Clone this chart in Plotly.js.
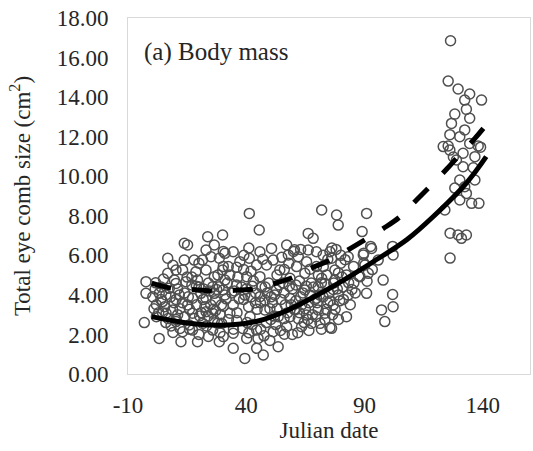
<!DOCTYPE html>
<html>
<head>
<meta charset="utf-8">
<script src="https://cdn.plot.ly/plotly-3.0.1.min.js"></script>
<style>html,body{margin:0;padding:0;background:#fff;}</style>
</head>
<body>
<div id="chart" style="width:533px;height:451px;"></div>
<script>
// Observed points: Julian date
const obsX = [
126.4,125.4,129.6,134.5,139.5,132.4,128.2,133.1,126.8,134.5,130.3,132.4,126.1,125.4,126.1,123.3,134.5,138.1,131.7,128.9,136.7,131.7,136.0,136.7,130.3,132.4,128.2,133.1,130.3,135.3,138.4,124.0,131.0,133.1,129.6,126.2,126.2,127.6,139.1,
90.9,89.0,92.6,102.1,101.9,95.8,97.9,101.9,97.2,102.1,98.6,90.9,89.7,89.7,93.3,91.6,88.1,90.2,89.5,93.0,83.1,82.4,83.1,82.4,85.4,84.7,87.6,86.1,81.8,81.1,83.3,91.1,
41.3,45.5,30.0,66.2,68.3,71.9,78.2,78.9,
6.8,13.8,15.2,23.7,26.5,23.0,13.8,18.0,21.5,25.1,28.6,6.8,10.3,13.1,18.7,23.0,26.5,30.0,-2.4,9.6,14.5,19.4,25.8,
-2.4,3.2,7.5,10.3,11.7,15.2,17.3,20.8,23.0,26.5,28.6,23.0,6.1,10.3,-3.1,3.2,12.4,19.4,13.1,17.3,25.8,28.6,4.6,8.9,17.3,25.8,21.6,15.9,27.9,
34.5,41.3,45.8,50.7,57.1,57.8,62.0,66.2,31.0,32.4,37.3,44.4,48.6,51.4,54.2,61.3,65.5,69.7,40.2,45.8,58.5,64.8,31.0,35.9,
30.3,34.5,39.4,45.8,47.9,52.8,58.5,64.8,69.7,33.1,41.6,47.9,53.5,60.6,65.5,34.5,40.2,44.4,51.4,57.1,63.4,67.6,34.5,39.4,44.4,47.2,53.5,30.3,29.6,
69.7,75.4,76.1,72.6,77.5,71.9,77.5,
70.4,73.3,70.4,73.3,71.2,76.1,76.8,
10.3,13.9,16.0,18.9,21.8,23.9,27.5,30.3,33.9,36.1,38.9,42.5,44.6,48.9,51.8,54.7,58.2,60.4,64.0,66.1,69.0,71.8,73.9,76.8,79.0,56.1,38.9,30.3,
10.3,16.0,23.2,28.9,34.6,40.4,46.1,50.4,61.8,71.8,73.3,4.6,3.9,1.7,8.2,20.3,26.1,32.5,41.1,43.9,51.1,62.5,65.4,77.6,79.0,75.4,75.4,47.5,56.1,41.1,60.4,76.2,30.3,
36.5,38.0,41.0,43.0,46.5,49.5,50.5,53.0,55.5,56.5,59.5,61.0,62.5,63.5,66.5,67.5,68.0,70.5,72.5,74.0,75.0,76.5,78.5,79.5,80.5,80.0,36.0,39.0,42.0,47.0,53.0,55.0,58.0,60.0,63.0,67.0,72.5,74.5,78.0,80.0,
36.0,38.5,42.5,45.0,48.5,50.0,52.5,54.5,56.0,58.5,59.5,62.0,64.5,66.5,69.5,
0.5,2.0,5.0,8.0,9.0,11.0,12.0,14.0,15.0,17.0,18.0,19.0,20.0,21.0,22.0,24.0,25.0,27.0,28.0,29.0,31.5,32.0,33.0,2.0,6.0,9.0,12.0,20.0,24.0,26.5,1.0,
1.5,4.0,6.0,3.0,5.5,7.0,9.5,11.0,13.0,15.5,17.0,20.0,22.5,24.5,27.0,29.5,31.0,35.0,37.0,40.0,42.0,44.0,46.0,48.0,50.0,52.0,54.0,56.0,57.5,59.0,61.0,63.0,65.0,67.0,68.5,70.0,71.0,74.5,77.0,79.0,81.0,84.0,85.5
];
// Observed points: total eye comb size (cm2)
const obsY = [
16.85,14.81,14.41,14.16,13.85,13.85,13.14,13.38,12.67,12.93,12.0,12.34,12.1,11.53,11.32,11.5,11.66,11.53,11.16,10.82,10.99,10.48,10.43,9.81,9.81,9.47,9.4,9.13,8.8,8.63,8.63,8.29,6.86,7.03,7.03,7.12,5.86,10.97,11.47,
8.12,7.2,6.45,6.02,6.45,5.76,4.75,4.02,3.24,3.4,2.65,4.08,6.11,5.61,5.28,5.09,4.92,5.51,6.02,6.35,5.93,5.01,3.99,2.9,5.44,4.27,4.94,4.1,5.78,3.77,4.61,4.69,
8.12,7.28,7.03,7.11,6.86,8.29,8.04,7.53,
5.85,6.61,6.52,6.94,6.52,6.27,5.76,5.76,5.76,5.93,5.85,5.09,5.26,5.26,5.17,5.26,4.92,5.26,4.67,4.75,4.67,4.75,4.41,
4.08,4.08,4.33,4.58,3.99,3.49,3.83,4.08,3.83,4.08,4.41,3.15,3.07,2.65,2.6,1.8,1.63,1.63,2.14,2.22,2.22,1.63,3.66,3.24,3.07,3.07,2.56,2.48,2.56,
6.18,5.85,6.18,6.35,6.52,6.02,5.93,6.27,6.1,5.43,5.68,5.51,5.51,5.76,5.26,5.43,5.68,5.43,4.92,4.92,4.84,5.09,4.75,4.5,
4.25,3.49,3.99,3.91,3.74,4.25,3.83,4.25,3.83,3.07,2.9,3.24,2.9,3.24,2.98,2.06,1.8,2.22,2.14,2.39,2.39,2.56,1.3,0.79,1.3,0.96,1.38,1.89,2.56,
6.18,6.18,5.85,5.43,5.26,4.84,4.75,
4.41,4.58,3.24,3.07,2.56,2.31,3.49,
3.77,4.1,3.27,4.44,3.77,2.93,4.27,3.43,4.1,3.1,3.77,4.44,3.27,4.1,2.93,3.77,4.44,3.27,4.1,2.76,3.77,4.61,3.27,4.27,5.11,5.28,5.28,5.44,
2.76,2.26,2.43,2.09,2.26,2.6,2.26,2.76,2.09,2.26,2.76,3.1,3.77,4.61,2.43,2.93,3.27,2.76,2.09,3.6,3.6,3.1,4.44,3.27,2.76,3.69,2.35,1.93,2.01,6.37,6.28,6.37,6.2,
4.9,4.4,3.4,4.7,4.4,4.6,3.9,3.3,4.6,3.5,4.3,3.7,4.7,3.5,3.6,4.6,3.0,5.0,3.9,5.0,4.1,3.0,4.3,3.7,4.9,5.6,5.4,6.0,5.2,5.8,5.0,5.9,5.6,6.2,6.3,5.3,6.0,5.8,6.3,6.0,
2.7,2.3,2.5,1.8,2.6,1.7,2.5,2.2,2.8,2.9,2.0,2.8,2.6,2.2,2.9,
3.9,3.5,4.8,3.9,5.5,4.3,3.3,2.9,4.9,4.5,2.8,3.5,5.6,3.1,4.3,4.6,3.5,3.7,5.0,3.0,3.8,4.6,5.0,2.9,2.6,2.1,2.3,2.0,1.9,2.7,3.3,
4.3,4.4,4.0,3.1,3.4,2.8,3.6,3.0,3.6,3.9,4.9,4.4,3.4,4.2,3.2,3.5,4.0,4.2,3.8,4.3,3.9,4.1,3.6,4.4,3.3,4.0,4.5,4.1,3.1,3.5,4.5,3.9,3.3,4.0,4.4,3.6,4.0,3.6,4.6,4.0,4.4,3.5,4.6
];
// Fitted curve (solid)
const fitSolidX = [0, 15, 30, 45, 57, 71, 84, 94, 108, 119, 133, 141.5];
const fitSolidY = [2.9, 2.58, 2.47, 2.68, 3.2, 4.05, 4.95, 5.7, 6.8, 7.95, 9.64, 10.99];
// Fitted curve (dashed)
const fitDashX = [0, 8, 17, 25, 33, 43, 52, 60.6, 69, 75.4, 83, 90, 98, 105, 112, 117.6, 124.7, 130, 136.7, 142];
const fitDashY = [4.6, 4.35, 4.27, 4.2, 4.22, 4.3, 4.58, 4.92, 5.43, 5.76, 6.27, 6.77, 7.36, 7.95, 8.8, 9.47, 10.35, 11.05, 11.91, 12.67];
// Tick labels
const xTickVals = [-10, 40, 90, 140];
const xTickText = ['-10', '40', '90', '140'];

const FONT = 'Liberation Serif, Times New Roman, serif';
const TXT = '#262626';

const traces = [
  {
    x: obsX, y: obsY, type: 'scatter', mode: 'markers',
    marker: {symbol: 'circle-open', size: 10, color: '#4f4f4f', line: {width: 1.5, color: '#4f4f4f'}},
    hoverinfo: 'skip', showlegend: false
  },
  {
    x: fitDashX, y: fitDashY, type: 'scatter', mode: 'lines',
    line: {color: '#000', width: 5, dash: '20px,21px', shape: 'spline', smoothing: 1},
    showlegend: false
  },
  {
    x: fitSolidX, y: fitSolidY, type: 'scatter', mode: 'lines',
    line: {color: '#000', width: 5, shape: 'spline', smoothing: 1},
    showlegend: false
  }
];

const layout = {
  width: 533, height: 451,
  margin: {l: 128, r: 3, t: 18, b: 77},
  paper_bgcolor: '#fff', plot_bgcolor: '#fff',
  showlegend: false,
  font: {family: FONT, color: TXT, size: 23},
  xaxis: {
    range: [-10, 160], tickmode: 'array', tickvals: xTickVals, ticktext: xTickText,
    showline: true, mirror: true, linecolor: '#d9d9d9', linewidth: 1,
    showgrid: false, zeroline: false, ticks: '',
    ticklabelstandoff: 10,
    tickfont: {family: FONT, size: 23, color: TXT},
    title: {text: 'Julian date', font: {family: FONT, size: 23, color: TXT}, standoff: 0}
  },
  yaxis: {
    range: [0, 18], tick0: 0, dtick: 2, tickmode: 'linear', tickformat: '.2f',
    showline: true, mirror: true, linecolor: '#d9d9d9', linewidth: 1,
    showgrid: false, zeroline: false, ticks: '',
    ticklabelstandoff: 14,
    tickfont: {family: FONT, size: 23, color: TXT},
    title: {text: 'Total eye comb size (cm<sup>2</sup>)', font: {family: FONT, size: 23, color: TXT}, standoff: 19}
  },
  annotations: [{
    text: '(a) Body mass', xref: 'paper', yref: 'paper', x: 0.035, y: 0.905,
    xanchor: 'left', yanchor: 'middle', showarrow: false,
    font: {family: FONT, size: 25, color: TXT}
  }]
};

Plotly.newPlot('chart', traces, layout, {displayModeBar: false, staticPlot: true});
</script>
</body>
</html>
